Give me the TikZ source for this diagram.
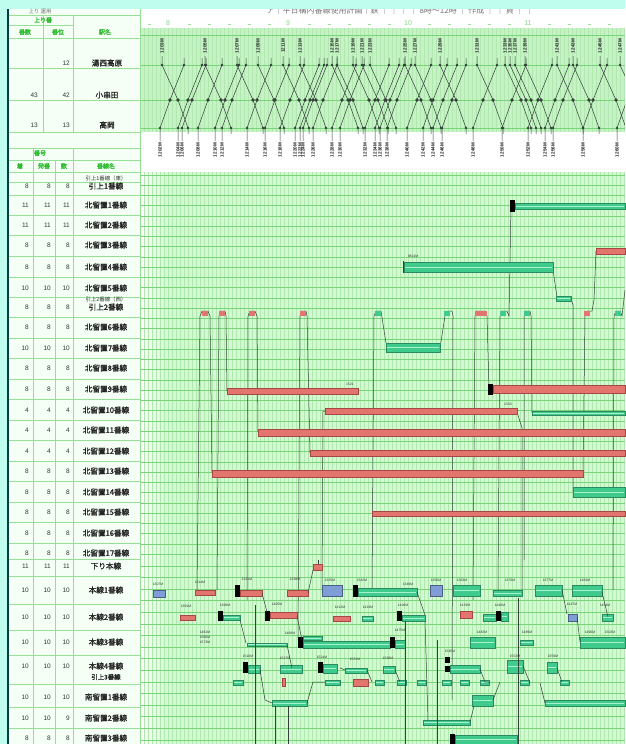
\documentclass[tikz,border=0pt]{standalone}
\usepackage{fontspec}
\setmainfont{Liberation Sans}
\newfontfamily\jp[FakeBold=1.6]{Noto Sans CJK JP}
\newfontfamily\jpl{Noto Sans CJK JP}
\definecolor{cyanbg}{HTML}{BFFDEF}
\definecolor{chartbg}{HTML}{D2F9D2}
\definecolor{bandbg}{HTML}{C6F2C6}
\definecolor{gridv}{HTML}{B0E8B0}
\definecolor{gridh}{HTML}{78D478}
\definecolor{tline}{HTML}{96E096}
\definecolor{hdrgreen}{HTML}{30BC30}
\definecolor{redf}{HTML}{E2766E}
\definecolor{redd}{HTML}{A84646}
\definecolor{grnf}{HTML}{3ECB8C}
\definecolor{grnd}{HTML}{2A8A60}
\definecolor{grnl}{HTML}{A8F0D0}
\definecolor{bluef}{HTML}{7F9ED8}
\definecolor{trk}{HTML}{34403A}
\definecolor{tablebg}{HTML}{F6FFF6}
\newcommand\GBar[4]{\fill[grnbar] (#1,#2) rectangle (#3,#4); \draw[grnl,line width=0.5pt] ({#1+0.8},{(#2+#4)/2}) -- ({#3-0.8},{(#2+#4)/2});}
\newcommand\RBar[4]{\fill[redbar] (#1,#2) rectangle (#3,#4);}
\newcommand\BBar[4]{\fill[bluebar] (#1,#2) rectangle (#3,#4);}
\newcommand\KBar[4]{\fill[black] (#1,#2) rectangle (#3,#4);}
\newcommand\Flag[2]{\fill[#2] ({#1-3},310.5) rectangle ({#1+3},316);}
\begin{document}
\begin{tikzpicture}[x=1pt,y=-1pt,
  redbar/.style={fill=redf,draw=redd,line width=0.3pt},
  grnbar/.style={fill=grnf,draw=grnd,line width=0.3pt},
  bluebar/.style={fill=bluef,draw=bluef!60!black,line width=0.3pt},
  trkline/.style={draw=trk,line width=0.5pt},
  tnum/.style={font=\bfseries\fontsize{4.6}{4.6}\selectfont,inner sep=0pt,text=black!90},
  tlabel/.style={font=\fontsize{3.4}{3.4}\selectfont,inner sep=0pt,text=black!80},
  num/.style={font=\fontsize{6.5}{7}\selectfont,inner sep=0pt,text=black!80},
  rowlbl/.style={font=\jp\fontsize{7.6}{8}\selectfont,inner sep=0pt,text=black!85},
  small/.style={font=\jpl\fontsize{5.4}{6}\selectfont,inner sep=0pt,text=black!80},
  hdr/.style={font=\jp\fontsize{6}{6.5}\selectfont,inner sep=0pt,text=hdrgreen}]
\useasboundingbox (0,0) rectangle (625,744);
% backgrounds
\fill[cyanbg] (0,0) rectangle (625,744);
\fill[tablebg] (8,9) rectangle (140,744);
\fill[white] (140,9) rectangle (625,172);
\fill[bandbg] (140,28) rectangle (625,132);
\fill[chartbg] (140,172) rectangle (625,744);
\shade[left color=white,right color=chartbg] (140,172) rectangle (168,744);
% title (cut by top band)
\node[font=\jpl\fontsize{8}{9}\selectfont,text=black!55,inner sep=0pt] (title) at (400,10) {ア｜平日構内番線使用計画｜鉄 ｜ ｜ ｜ ｜ 8時〜12時 ｜ 作成 ｜ ｜ 頁 ｜ ｜};
\fill[cyanbg] (0,0) rectangle (625,9);
% hour axis
\foreach \h/\t [count=\i] in {168/8,288/9,408/10,528/11}{
  \node[font=\fontsize{7}{7}\selectfont,text=hdrgreen!60,inner sep=0pt] (hr\i) at (\h,23) {\t};}
\foreach \x in {148,188,208,228,248,268,308,328,348,368,388,428,448,468,488,508,548,568,588,608}{
  \draw[hdrgreen!50,line width=0.5pt] (\x,24) -- ({\x+3},24);}
% upper band grid
\foreach \x in {140,144,...,624}{\draw[gridv,line width=0.25pt] (\x,28) -- (\x,132);}
\foreach \y in {35,65,100,128}{\draw[gridh,line width=0.6pt] (140,\y) -- (625,\y);}
% lower chart grid
\foreach \x in {140,144,...,624}{\draw[gridv,line width=0.25pt] (\x,172) -- (\x,744);}
\foreach \k in {0,...,37}{\draw[gridh,line width=0.7pt] (140,{175+10.25*\k}) -- (625,{175+10.25*\k});}
\foreach \k in {0,...,15}{\draw[gridh,line width=0.7pt] (140,{566+11.6*\k}) -- (625,{566+11.6*\k});}
% upper table lines
\foreach \y in {15,38,68,100,132}{\draw[tline,line width=0.6pt] (8,\y) -- (140,\y);}
\draw[tline,line width=0.6pt] (8,25) -- (73,25);
\draw[tline,line width=0.6pt] (43,15) -- (43,132) (73,15) -- (73,132);
\draw[tline,line width=0.8pt] (140,9) -- (140,744);
% lower table lines
\foreach \y in {148,160,172,182,195,215,235,256,277,297,317,338,358,379,399,420,440,461,481,502,522,543,559,576,604,630,655,684,707,728}{
  \draw[tline,line width=0.6pt] (8,\y) -- (140,\y);}
\draw[tline,line width=0.6pt] (33,148) -- (33,744) (55,160) -- (55,744) (73,148) -- (73,744);
% left dark rule
\draw[black!50!teal,line width=1.4pt] (8,9) -- (8,744);
% upper table headers
\node[small,text=black!55] (uh0) at (40,12) {上り 運用};
\node[hdr] (uh1) at (43,20) {上り番};
\node[hdr] (uh2) at (25,32) {番数};
\node[hdr] (uh3) at (58,32) {番位};
\node[hdr] (uh4) at (105,32) {駅名};
\node[num,anchor=east] (u12) at (70,63) {12};
\node[num,anchor=east] (u21) at (38,95) {43};
\node[num,anchor=east] (u22) at (70,95) {42};
\node[num,anchor=east] (u31) at (38,125) {13};
\node[num,anchor=east] (u32) at (70,125) {13};
\node[rowlbl] (st1) at (107,63) {湯西高原};
\node[rowlbl] (st2) at (107,95) {小串田};
\node[rowlbl] (st3) at (107,125) {高岡};
% lower table headers
\node[hdr] (lh0) at (40,153) {番号};
\node[hdr] (lh1) at (20,166) {着};
\node[hdr] (lh2) at (44,166) {発番};
\node[hdr] (lh3) at (64,166) {数};
\node[hdr] (lh4) at (106,166) {番線名};
\node[small] (xa) at (106,178) {引上1番線（東）};
\node[small] (xb) at (106,299) {引上2番線（西）};
\node[rowlbl,font=\jp\fontsize{6.4}{7}\selectfont] (xc) at (106,677) {引上3番線};
\foreach \y/\nm/\a/\b/\c [count=\i] in {186/引上1番線/8/8/8,205/北留置1番線/11/11/11,225/北留置2番線/11/11/11,245/北留置3番線/8/8/8,267/北留置4番線/8/8/8,288/北留置5番線/10/10/10,307/引上2番線/8/8/8,327/北留置6番線/8/8/8,348/北留置7番線/10/10/10,368/北留置8番線/8/8/8,389/北留置9番線/8/8/8,410/北留置10番線/4/4/4,430/北留置11番線/4/4/4,451/北留置12番線/4/4/4,471/北留置13番線/8/8/8,492/北留置14番線/8/8/8,512/北留置15番線/8/8/8,533/北留置16番線/8/8/8,553/北留置17番線/8/8/8,566/下り本線/11/11/11,590/本線1番線/10/10/10,617/本線2番線/10/10/10,642/本線3番線/10/10/10,666/本線4番線/10/10/10,697/南留置1番線/10/10/10,718/南留置2番線/10/10/9,738/南留置3番線/8/8/8}{
  \node[num,anchor=east] (na\i) at (29,\y) {\a};
  \node[num,anchor=east] (nb\i) at (51,\y) {\b};
  \node[num,anchor=east] (nc\i) at (70,\y) {\c};
  \node[rowlbl] (rl\i) at (106,\y) {\nm};
}
% upper time-distance chart
\begin{scope}
\clip (140,28) rectangle (625,170);
\foreach \x [count=\i] in {162,205,237,258,283,300,332,337,353,362,370,405,415,440,477,505,510,515,525,557,573,600,620}{
  \draw[trkline] (\x,56) -- (\x,65) -- ({\x+16},100) -- ({\x+26},128) -- ({\x+26},134);
  \fill[trk] (\x,65) circle (1.4) ({\x+16},100) circle (1.8) ({\x+26},128) circle (1.3);
  \pgfmathtruncatemacro\tn{1201+2*\i}
  \node[tnum,rotate=90] (dn\i) at (\x,46) {\tn M};
}
\foreach \x [count=\i] in {160,178,182,198,215,222,247,265,280,295,300,303,313,332,340,365,375,380,387,407,423,433,442,473,502,528,545,553,583,617}{
  \draw[trkline] (\x,141) -- (\x,128) -- ({\x+10},100) -- ({\x+24},65) -- ({\x+24},58);
  \fill[trk] (\x,128) circle (1.3) ({\x+10},100) circle (1.8) ({\x+24},65) circle (1.3);
  \pgfmathtruncatemacro\tn{1200+2*\i}
  \node[tnum,rotate=90] (up\i) at (\x,150) {\tn M};
}
\end{scope}
% ===== lower chart =====
% track movements via 引上2
\draw[trkline] (197,592) -- (200,316) -- (202,311) -- (208,311) -- (210,316) -- (212,473);
\draw[trkline] (217,590) -- (219,316) -- (220,311) -- (225,311) -- (226,316) -- (227,391);
\draw[trkline] (247,600) -- (248,316) -- (250,311) -- (255,311) -- (257,316) -- (258,432);
\draw[trkline] (298,640) -- (300,316) -- (301,311) -- (306,311) -- (307,316) -- (310,453);
\draw[trkline] (372,590) -- (374,316) -- (376,311) -- (381,311) -- (386,343);
\draw[trkline] (440,348) -- (445,316) -- (447,311) -- (452,311) -- (453,316) -- (452,700);
\draw[trkline] (473,600) -- (475,316) -- (476,311) -- (485,311) -- (487,316) -- (489,389);
\draw[trkline] (498,590) -- (500,316) -- (502,311) -- (507,311) -- (509,316) -- (511,206);
\draw[trkline] (524,560) -- (524,316) -- (525,311) -- (530,311) -- (531,316) -- (532,413);
\draw[trkline] (583,474) -- (585,316) -- (587,311) -- (592,311) -- (594,300) -- (596,251);
\draw[trkline] (613,590) -- (614,316) -- (616,311) -- (620,311) -- (622,316) -- (625,290);
\draw[trkline] (322,590) -- (323,411) -- (325,411);
\draw[trkline] (517,412) -- (522,428) -- (522,590);
\draw[trkline] (553,270) -- (557,297);
\draw[trkline] (571,299) -- (573,305) -- (573,492);
\draw[trkline] (403,261) -- (403,273);
\foreach \x/\c in {205/redf,222/redf,252/redf,303/redf,378/grnf,447/grnf,527/grnf,503/grnf,587/redf,618/grnf}{\Flag{\x}{\c}}
\fill[redf] (475,310.5) rectangle (487,316);
% north sidings
\KBar{510}{200}{515}{212}
\GBar{515}{203}{625}{209}
\GBar{404}{262}{553}{272}
\GBar{556}{296}{571}{301}
\RBar{596}{248}{625}{254}
\GBar{386}{343}{440}{352}
\RBar{227}{388}{358}{394}
\KBar{488}{384}{493}{395}
\RBar{493}{385}{625}{393}
\RBar{325}{408}{517}{414}
\GBar{532}{411}{625}{415}
\RBar{258}{429}{625}{436}
\RBar{310}{450}{625}{456}
\RBar{212}{470}{583}{477}
\GBar{573}{487}{625}{497}
\RBar{372}{511}{625}{516}
% main lines area
\draw[trkline] (318,560) -- (318,565);
\RBar{313}{564}{322}{570}
\BBar{153}{590}{165}{597}
\RBar{195}{590}{215}{595}
\KBar{235}{585}{240}{597}
\RBar{240}{590}{262}{596}
\RBar{287}{590}{308}{596}
\BBar{322}{585}{342}{596}
\KBar{353}{585}{358}{597}
\GBar{358}{588}{417}{596}
\BBar{430}{585}{442}{596}
\GBar{453}{585}{480}{596}
\GBar{493}{590}{522}{596}
\GBar{535}{585}{562}{596}
\GBar{572}{585}{602}{596}
\RBar{180}{615}{195}{620}
\KBar{218}{611}{223}{621}
\GBar{223}{615}{240}{620}
\KBar{265}{611}{270}{621}
\RBar{270}{612}{297}{618}
\RBar{333}{616}{350}{621}
\GBar{362}{616}{373}{621}
\KBar{397}{611}{402}{621}
\GBar{402}{615}{425}{621}
\RBar{460}{611}{472}{618}
\GBar{483}{614}{496}{621}
\KBar{496}{611}{501}{621}
\GBar{501}{612}{508}{621}
\BBar{568}{614}{577}{621}
\GBar{602}{614}{613}{621}
\GBar{247}{643}{287}{646}
\GBar{303}{636}{322}{640}
\GBar{303}{641}{390}{648}
\KBar{298}{637}{303}{648}
\KBar{390}{637}{395}{648}
\GBar{395}{640}{405}{648}
\GBar{470}{637}{495}{648}
\GBar{520}{640}{533}{645}
\GBar{580}{637}{625}{648}
\KBar{243}{662}{248}{673}
\GBar{248}{665}{260}{673}
\GBar{280}{665}{302}{673}
\KBar{318}{662}{323}{673}
\GBar{323}{664}{337}{673}
\GBar{345}{668}{367}{673}
\GBar{383}{666}{395}{673}
\KBar{445}{657}{450}{663}
\KBar{445}{666}{450}{672}
\GBar{450}{665}{480}{673}
\GBar{507}{660}{523}{673}
\GBar{547}{662}{557}{673}
\GBar{233}{680}{243}{685}
\RBar{282}{678}{285}{686}
\GBar{325}{680}{340}{685}
\RBar{353}{679}{368}{686}
\foreach \x in {375,397,417,442,460,480,520,560}{\pgfmathsetmacro\xe{\x+9}\GBar{\x}{680}{\xe}{685}}
\GBar{272}{700}{307}{706}
\GBar{472}{695}{493}{706}
\GBar{545}{700}{625}{706}
\GBar{423}{720}{470}{725}
\KBar{450}{734}{455}{744}
\GBar{455}{735}{517}{744}
% connectors in the main-line area
\draw[trkline] (262,593) -- (267,612);
\draw[trkline] (308,593) -- (313,570);
\draw[trkline] (240,620) -- (246,643);
\draw[trkline] (287,645) -- (292,668);
\draw[trkline] (297,616) -- (302,640);
\draw[trkline] (260,670) -- (265,700) -- (272,703);
\draw[trkline] (307,703) -- (313,682) -- (325,682);
\draw[trkline] (255,605) -- (255,744);
\draw[trkline] (275,706) -- (275,744);
\draw[trkline] (288,706) -- (288,744);
\draw[trkline] (405,621) -- (405,744);
\draw[trkline] (417,592) -- (425,615);
\draw[trkline] (425,621) -- (428,720);
\draw[trkline] (437,640) -- (437,744);
\draw[trkline] (470,722) -- (474,706);
\draw[trkline] (480,669) -- (485,682) -- (490,682);
\draw[trkline] (493,700) -- (500,682);
\draw[trkline] (518,598) -- (518,744);
\draw[trkline] (523,666) -- (530,683);
\draw[trkline] (540,683) -- (545,703);
\draw[trkline] (557,668) -- (562,682);
\draw[trkline] (562,590) -- (567,614);
\draw[trkline] (577,617) -- (580,642);
\draw[trkline] (602,592) -- (608,617);
\draw[trkline] (395,670) -- (400,682);
\draw[trkline] (367,670) -- (372,682);
\draw[trkline] (340,668) -- (345,670);
% small train labels
\node[tlabel] (lbA) at (413,256) {9821M};
\node[tlabel] (lbB) at (350,384) {1521};
\node[tlabel] (lbC) at (508,404) {1533};
\foreach \x/\y [count=\i] in {158/584,200/582,247/579,295/579,330/580,362/580,408/584,436/580,462/580,510/580,548/580,585/580,186/606,225/605,277/604,340/607,368/607,403/605,465/605,500/605,572/604,605/605,205/632,290/633,400/630,482/632,527/632,590/632,610/632,248/656,285/658,322/657,355/659,388/658,450/651,515/656,553/656,205/637,205/642}{
  \pgfmathtruncatemacro\tn{1300+7*\i}
  \node[tlabel] (bl\i) at (\x,\y) {\tn M};
}
\end{tikzpicture}
\end{document}
